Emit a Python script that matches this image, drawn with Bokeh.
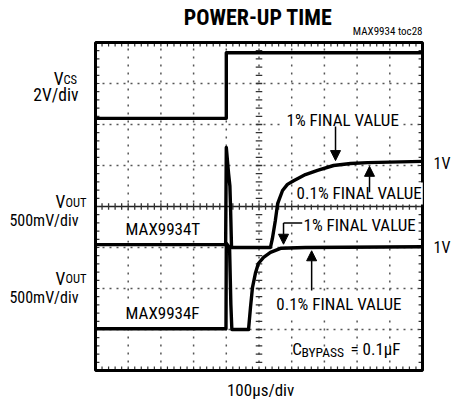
from bokeh.plotting import figure
from bokeh.models import Label, Arrow, NormalHead, Range1d
from bokeh.embed import file_html
from bokeh.resources import INLINE
import numpy as np

# ---- data (in scope divisions: x 0..10, y 0..8) ----
vcs_t = [0.0, 4.0, 4.0, 10.0]
vcs_v = [6.15, 6.15, 7.75, 7.75]

t_t = [0.0, 3.98, 4.0, 4.07, 4.11, 4.13, 4.16, 5.35, 5.41, 5.50, 5.57, 5.72,
       5.87, 6.06, 6.42, 6.79, 7.28, 7.80, 8.32, 10.0]
t_v = [3.07, 3.07, 5.44, 4.80, 4.50, 3.97, 3.00, 3.00, 3.22, 3.66, 4.07, 4.39,
       4.54, 4.63, 4.78, 4.88, 5.00, 5.05, 5.07, 5.10]

f_t = [0.0, 3.99, 4.0, 4.1, 4.14, 4.17, 4.68, 4.74, 4.80, 4.89, 4.98, 5.14,
       5.35, 5.66, 6.42, 10.0]
f_v = [1.02, 1.02, 3.10, 3.00, 1.60, 1.00, 1.00, 1.54, 2.02, 2.37, 2.61, 2.76,
       2.88, 2.98, 3.00, 3.02]

FONT = "Roboto Condensed"

# layout: the scope screen is 10 x 8 divisions; extra room around it
W, H = 454, 404
PX_X, PX_Y = 32.7, 41.0
x_lo = -95 / PX_X
y_lo = -34 / PX_Y
p = figure(width=W, height=H,
           x_range=Range1d(x_lo, x_lo + W / PX_X), y_range=Range1d(y_lo, y_lo + H / PX_Y),
           output_backend="svg", toolbar_location=None,
           x_axis_location=None, y_axis_location=None, min_border=0)
p.outline_line_color = None
p.xgrid.visible = False
p.ygrid.visible = False
p.background_fill_color = "white"
p.border_fill_color = "white"

# graticule
gx = np.arange(1, 10)
gy = np.array([1, 2, 3, 5, 6, 7])
p.segment(x0=gx, y0=0, x1=gx, y1=8, line_color="#555555", line_width=1.5, line_dash="2 6")
p.segment(x0=0, y0=gy, x1=10, y1=gy, line_color="#555555", line_width=1.5, line_dash="2 5")
p.segment(x0=[0], y0=[4], x1=[10], y1=[4], line_color="#222222", line_width=1.5)

xs = np.arange(0.2, 10.0, 0.2)
ys = np.arange(0.2, 8.0, 0.2)
tick_col = "#333333"
p.segment(x0=xs, y0=3.92, x1=xs, y1=4.08, line_color=tick_col, line_width=1.3)
p.segment(x0=4.9, y0=ys, x1=5.1, y1=ys, line_color=tick_col, line_width=1.3)
p.segment(x0=xs, y0=8.0, x1=xs, y1=7.9, line_color=tick_col, line_width=1.2)
p.segment(x0=xs, y0=0.0, x1=xs, y1=0.1, line_color=tick_col, line_width=1.2)
p.segment(x0=0.0, y0=ys, x1=0.12, y1=ys, line_color=tick_col, line_width=1.2)
p.segment(x0=10.0, y0=ys, x1=9.88, y1=ys, line_color=tick_col, line_width=1.2)

p.quad(left=[0], right=[10], bottom=[0], top=[8], fill_color=None,
       line_color="black", line_width=3)

# traces
for tx, ty in ((vcs_t, vcs_v), (t_t, t_v), (f_t, f_v)):
    p.line(tx, ty, line_color="black", line_width=3.4, line_join="round")

DY = 0.12  # baseline correction for the text renderer


def lab(text, x, y, size=17, align="left", style="normal", bg=None, pad=0):
    kw = dict(x=x, y=y + DY, text=text, text_font=FONT, text_font_size=f"{size}px",
              text_align=align, text_baseline="alphabetic", text_color="black",
              text_font_style=style)
    if bg:
        kw["background_fill_color"] = bg
        kw["padding"] = pad
    p.add_layout(Label(**kw))


# outside texts
lab("POWER-UP TIME", 4.97, 8.49, size=22, align="center", style="bold")
lab("MAX9934 toc28", 10.0, 8.14, size=11, align="right")
lab("V", -0.98, 6.98, size=17.5, align="right")
lab("CS", -0.98, 6.98, size=12.5, align="left")
lab("2V/div", -0.52, 6.59, size=17.5, align="right")
lab("V", -0.92, 3.98, size=17.5, align="right")
lab("OUT", -0.92, 3.98, size=12.5, align="left")
lab("500mV/div", -0.52, 3.54, size=16, align="right")
lab("V", -0.92, 2.12, size=17.5, align="right")
lab("OUT", -0.92, 2.12, size=12.5, align="left")
lab("500mV/div", -0.52, 1.66, size=16, align="right")
lab("1V", 10.34, 4.93, size=16)
lab("1V", 10.34, 2.88, size=16)
lab("100µs/div", 5.05, -0.6, size=17, align="center")

# inside annotations
lab("1% FINAL VALUE", 5.72, 5.98, bg="white", pad=4)
lab("0.1% FINAL VALUE", 6.12, 4.2, bg="white", pad=1)
lab("MAX9934T", 0.89, 3.32, bg="white", pad=1)
lab("1% FINAL VALUE", 6.33, 3.44, bg="white", pad=1)
lab("0.1% FINAL VALUE", 5.5, 1.49, bg="white", pad=1)
lab("MAX9934F", 0.89, 1.29, bg="white", pad=1)
lab("C", 6.02, 0.41)
lab("BYPASS", 6.3, 0.33, size=13.5)
lab("= 0.1µF", 7.8, 0.41)


def arrow(x0, y0, x1, y1):
    p.add_layout(Arrow(end=NormalHead(size=10, fill_color="black", line_color="black"),
                       x_start=x0, y_start=y0, x_end=x1, y_end=y1,
                       line_color="black", line_width=1.5))


arrow(7.34, 5.95, 7.34, 5.12)
arrow(8.38, 4.35, 8.38, 4.98)
p.segment(x0=[6.33], y0=[3.6], x1=[5.75], y1=[3.6], line_color="black", line_width=1.5)
arrow(5.75, 3.6, 5.75, 3.08)
arrow(6.61, 1.95, 6.61, 2.92)

open("out.html", "w").write(file_html(p, INLINE))
